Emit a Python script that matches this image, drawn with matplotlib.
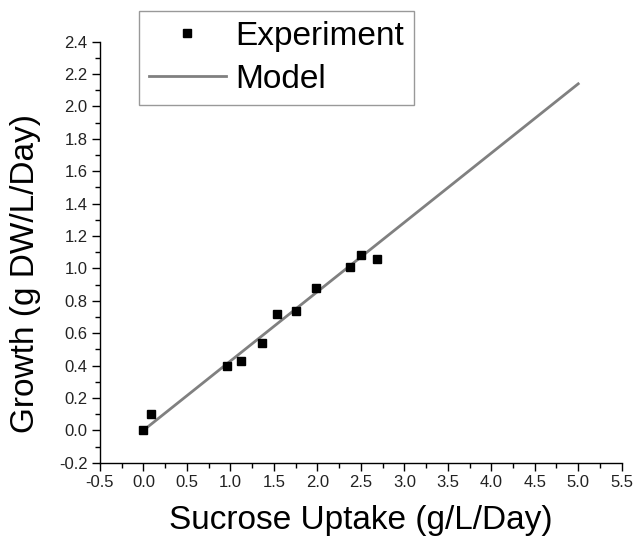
import matplotlib.pyplot as plt
import numpy as np
from matplotlib.ticker import MultipleLocator

plt.rcParams['font.family'] = ['Liberation Sans', 'DejaVu Sans']

# dados experimentais
uptake = [0.0, 0.09, 0.96, 1.12, 1.36, 1.54, 1.76, 1.99, 2.37, 2.50, 2.69]
growth = [0.0, 0.10, 0.40, 0.43, 0.54, 0.72, 0.74, 0.88, 1.01, 1.08, 1.06]

# modelo linear
model_x = [0.0, 5.0]
model_y = [0.0, 2.14]

fig = plt.figure(figsize=(6.34, 5.41), dpi=100)
ax = fig.add_axes([0.1577, 0.1447, 0.8229, 0.7782])

ax.plot(uptake, growth, 's', color='black', markersize=6.2, label='Experiment', zorder=3)
ax.plot(model_x, model_y, '-', color='#808080', linewidth=2.0, label='Model', zorder=2)

ax.set_xlim(-0.5, 5.5)
ax.set_ylim(-0.2, 2.4)
ax.xaxis.set_major_locator(MultipleLocator(0.5))
ax.xaxis.set_minor_locator(MultipleLocator(0.25))
ax.yaxis.set_major_locator(MultipleLocator(0.2))
ax.yaxis.set_minor_locator(MultipleLocator(0.1))
ax.xaxis.set_major_formatter(plt.FormatStrFormatter('%.1f'))
ax.yaxis.set_major_formatter(plt.FormatStrFormatter('%.1f'))

ax.spines['top'].set_visible(False)
ax.spines['right'].set_visible(False)
for s in ['left', 'bottom']:
    ax.spines[s].set_linewidth(1.0)
ax.tick_params(which='major', direction='out', length=6, width=1, pad=3, labelsize=12,
               labelcolor='#222222')
ax.tick_params(which='minor', direction='out', length=3.5, width=1)

ax.set_xlabel('Sucrose Uptake (g/L/Day)', fontsize=24, labelpad=11)
ax.set_ylabel('Growth (g DW/L/Day)', fontsize=24)
ax.yaxis.set_label_coords(-0.113, 0.45)

fig.legend(loc='upper left', bbox_to_anchor=(139 / 634, 1 - 11 / 541), fontsize=24,
           frameon=True, fancybox=False, edgecolor='#999999', handlelength=2.3,
           handletextpad=0.3, borderpad=0.3, labelspacing=0.35, borderaxespad=0,
           framealpha=1)

fig.savefig('out.png', dpi=100)
